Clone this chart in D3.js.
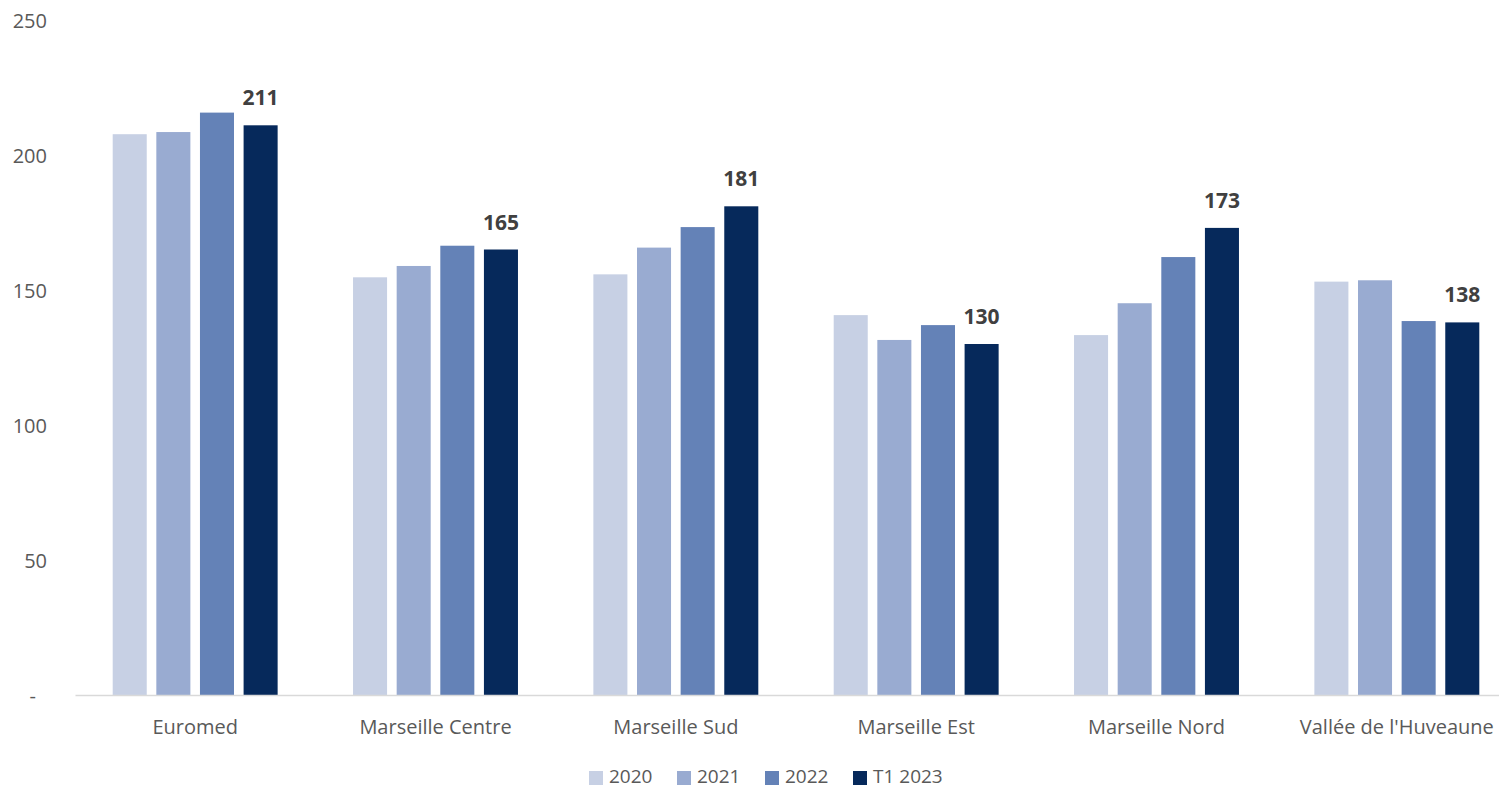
<!DOCTYPE html>
<html>
<head>
<meta charset="utf-8">
<script src="https://cdn.jsdelivr.net/npm/d3@7/dist/d3.min.js"></script>
<style>
  html, body { margin: 0; padding: 0; background: #fff; }
  svg { display: block; font-family: "Open Sans", Lato, sans-serif; }
</style>
</head>
<body>
<svg id="chart" width="1499" height="789"></svg>
<script>
// Prix moyen par secteur (séries annuelles + premier trimestre 2023)
const categories = ["Euromed", "Marseille Centre", "Marseille Sud", "Marseille Est", "Marseille Nord", "Vallée de l'Huveaune"];
const seriesNames = ["2020", "2021", "2022", "T1 2023"];
const values2020 = [207.7, 154.7, 155.8, 140.7, 133.3, 153.1];
const values2021 = [208.5, 158.9, 165.7, 131.5, 145.1, 153.6];
const values2022 = [215.7, 166.4, 173.3, 137.0, 162.2, 138.5];
const valuesT12023 = [211, 165, 181, 130, 173, 138];
const yTicks = [0, 50, 100, 150, 200, 250];
const colors = ["#c7d0e4", "#99abd1", "#6482b7", "#06295b"];

const allSeries = [values2020, values2021, values2022, valuesT12023];
const data = categories.map((c, i) => ({
  category: c,
  values: seriesNames.map((s, j) => ({ series: s, value: allSeries[j][i], idx: j }))
}));

const svg = d3.select("#chart");
const plotLeft = 75, plotTop = 20, plotBottom = 695;
const plotRight = 1517;

const y = d3.scaleLinear().domain([0, 250]).range([plotBottom, plotTop]);
const x0 = d3.scaleBand().domain(categories).range([plotLeft, plotRight]).padding(0);
const groupPad = 37.7;
const x1 = d3.scaleBand().domain(seriesNames)
  .range([groupPad, x0.bandwidth() - groupPad])
  .paddingInner(0.22).paddingOuter(0);
const color = d3.scaleOrdinal().domain(seriesNames).range(colors);

// Y axis labels (no line, no ticks)
const yAxis = d3.axisLeft(y).tickValues(yTicks).tickSize(0).tickPadding(0)
  .tickFormat(d => d === 0 ? "-" : d3.format("d")(d));
const yg = svg.append("g").attr("transform", "translate(47,0)").call(yAxis);
yg.select(".domain").remove();
yg.selectAll("text")
  .attr("fill", "#595959")
  .style("font-size", "20px")
  .style("font-family", "'Open Sans', sans-serif")
  .attr("dy", "0.35em")
  .attr("x", d => d === 0 ? -11 : 0);

// Bars
const groups = svg.append("g").selectAll("g")
  .data(data).join("g")
  .attr("transform", d => `translate(${x0(d.category)},0)`);

groups.selectAll("rect")
  .data(d => d.values).join("rect")
  .attr("x", d => x1(d.series))
  .attr("width", x1.bandwidth())
  .attr("y", d => y(d.value))
  .attr("height", d => y(0) - y(d.value))
  .attr("fill", d => color(d.series));

// Value labels above the latest quarter
groups.append("text")
  .attr("x", x1("T1 2023") + x1.bandwidth() / 2)
  .attr("y", d => y(d.values[3].value) - 20)
  .attr("text-anchor", "middle")
  .attr("fill", "#404040")
  .style("font-size", "21px")
  .style("font-weight", "bold")
  .text(d => d3.format("d")(d.values[3].value));

// X axis baseline and category labels
const xAxis = d3.axisBottom(x0).tickSize(0).tickPadding(0);
const xg = svg.append("g").attr("transform", `translate(0,${plotBottom})`).call(xAxis);
xg.select(".domain").attr("stroke", "#d9d9d9").attr("stroke-width", 1.5);
xg.selectAll("text")
  .attr("fill", "#595959")
  .style("font-size", "20px")
  .style("font-family", "'Open Sans', sans-serif")
  .attr("y", 32)
  .attr("dy", "0.35em");

// Legend
const legend = svg.append("g").attr("transform", "translate(589,0)");
const items = legend.selectAll("g").data(seriesNames).join("g")
  .attr("transform", (d, i) => `translate(${i * 88},0)`);
items.append("rect")
  .attr("x", 0).attr("y", 771)
  .attr("width", 14).attr("height", 14)
  .attr("fill", d => color(d));
items.append("text")
  .attr("x", 20).attr("y", 783)
  .attr("fill", "#595959")
  .style("font-size", "19px")
  .text(d => d);
</script>
</body>
</html>
